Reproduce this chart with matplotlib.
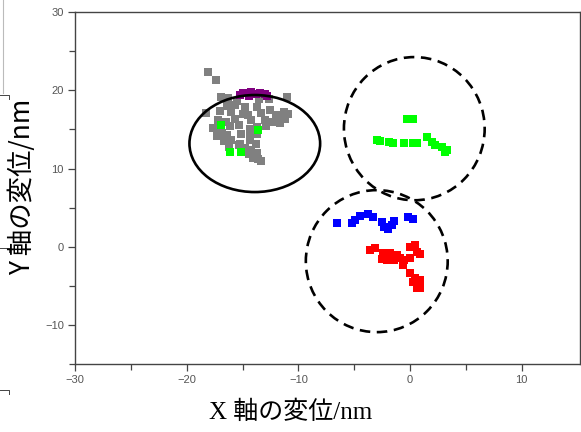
import matplotlib
matplotlib.use("Agg")
import matplotlib.pyplot as plt
from matplotlib.patches import Ellipse
from matplotlib.lines import Line2D
from matplotlib.ticker import MultipleLocator, FixedLocator

# gray cloud (left cluster)
gray_x = [-18.1, -17.4, -16.9, -16.3, -15.5, -13.5, -12.6, -11.0,
          -16.4, -15.7, -14.8, -13.7, -18.3,
          -17.0, -16.0, -15.0, -14.5, -13.3, -12.0, -11.3, -10.9,
          -17.2, -16.5, -15.7, -14.2, -13.0, -12.2, -11.2, -11.6,
          -17.6, -16.9, -16.1, -15.3, -14.3, -13.7, -12.9, -16.8,
          -17.3, -16.4, -15.1, -14.3, -13.7, -16.0,
          -16.7, -15.3, -14.3, -13.8, -14.8, -16.2, -15.2,
          -14.2, -13.7, -14.0, -13.6, -14.4, -13.3, -14.1,
          -12.5, -11.8, -12.8]
gray_y = [22.4, 21.3, 19.2, 19.0, 18.6, 18.9, 18.9, 19.1,
          18.0, 18.1, 17.9, 17.9, 17.1,
          17.3, 17.2, 17.0, 16.9, 17.1, 16.8, 17.2, 17.0,
          16.2, 16.0, 16.3, 16.2, 16.2, 16.0, 16.3, 15.8,
          15.2, 15.0, 15.4, 15.6, 15.0, 15.3, 15.5, 14.5,
          14.1, 14.3, 14.4, 14.2, 14.4, 13.6,
          13.5, 13.0, 13.6, 13.2, 12.6, 12.8, 13.1,
          12.4, 12.0, 11.5, 11.2, 11.8, 11.0, 11.4,
          17.5, 16.6, 15.9]

purple_x = [-15.2, -15.0, -14.6, -14.4, -14.2, -13.8, -13.4, -13.0, -12.8]
purple_y = [19.4, 19.7, 19.6, 19.3, 19.8, 19.5, 19.7, 19.5, 19.3]

green_x = [-16.9, -13.6, -16.1, -15.1,
           -0.3, 0.3, -3.0, -2.7, -1.9, -1.55, -0.55, 0.25, 0.6,
           1.5, 1.95, 2.2, 2.9, 3.3, 3.1]
green_y = [15.6, 14.9, 12.1, 12.1,
           16.4, 16.4, 13.6, 13.5, 13.4, 13.3, 13.3, 13.3, 13.3,
           14.0, 13.4, 13.0, 12.7, 12.4, 12.1]

blue_x = [-6.55, -5.2, -4.9, -4.5, -3.8, -3.3, -2.5, -2.3, -2.0, -1.6, -1.4, -0.2, 0.25]
blue_y = [3.0, 3.0, 3.4, 3.9, 4.2, 3.8, 3.2, 2.5, 2.3, 2.8, 3.3, 3.8, 3.5]

red_x = [-3.6, -3.15, -2.4, -2.5, -1.8, -1.6, -1.2, -0.9, -0.5, 0.0, -0.65, 0.0,
         0.45, 0.6, 0.9, -2.1, -1.4, 0.0, 0.45, 0.7, 0.6, 0.9, 0.25, 0.9]
red_y = [-0.4, -0.2, -0.8, -1.6, -0.8, -1.45, -1.1, -1.45, -1.7, -1.45, -2.3, -0.05,
         0.2, -0.7, -0.9, -1.7, -1.7, -3.4, -4.0, -4.65, -5.3, -5.2, -4.5, -4.3]

# (center x, center y, width, height, linestyle)
regions = [(-13.9, 13.2, 11.7, 12.4, "solid"),
           (0.38, 15.1, 12.6, 18.3, "dashed"),
           (-2.98, -1.83, 12.7, 18.15, "dashed")]

fig = plt.figure(figsize=(5.81, 4.32), dpi=100)
ax = fig.add_axes([0.129, 0.157, 0.869, 0.815])

mk = dict(marker="s", s=30, linewidths=0)
ax.scatter(gray_x, gray_y, color="#808080", **mk)
ax.scatter(purple_x, purple_y, color="#800080", **mk)
ax.scatter(green_x, green_y, color="#00ff00", **mk)
ax.scatter(blue_x, blue_y, color="#0000ff", **mk)
ax.scatter(red_x, red_y, color="#ff0000", **mk)

for cx, cy, w, h, ls in regions:
    e = Ellipse((cx, cy), w, h, fill=False, edgecolor="black", lw=1.9,
                linestyle=(0, (4, 2.5)) if ls == "dashed" else "-", zorder=5)
    ax.add_patch(e)

ax.set_xlim(-30, 15.2)
ax.set_ylim(-15, 30)
ax.xaxis.set_major_locator(MultipleLocator(10))
ax.xaxis.set_minor_locator(FixedLocator([-25, -15, -5, 5]))
ax.yaxis.set_major_locator(MultipleLocator(10))
ax.yaxis.set_minor_locator(MultipleLocator(5))
ax.tick_params(which="both", direction="out", color="#444444", width=0.9)
ax.tick_params(which="major", length=5, labelsize=8, labelcolor="#555555", pad=3)
ax.tick_params(which="minor", length=4)
for lab in ax.get_xticklabels() + ax.get_yticklabels():
    lab.set_family("Liberation Sans")
for sp in ax.spines.values():
    sp.set_color("#444444")
    sp.set_linewidth(1.0)

fig.text(0.038, 0.567, "Y 軸の変位/nm", rotation=90, ha="center", va="center",
         fontsize=19, family=["Noto Sans CJK JP", "DejaVu Sans"])
fig.text(0.5, 0.046, "X 軸の変位/nm", ha="center", va="center",
         fontsize=18, family=["Liberation Serif", "Noto Sans CJK JP"])

# cropped bits of a neighbouring panel at the far left edge
fig.add_artist(Line2D([0.005, 0.005], [1.0, 0.785], color="#bbbbbb", lw=0.8))
for yy in (0.78, 0.426, 0.097):
    fig.add_artist(Line2D([0.0, 0.015, 0.015], [yy, yy, yy - 0.01], color="#444444", lw=0.7))

fig.savefig("out.png", dpi=100)
